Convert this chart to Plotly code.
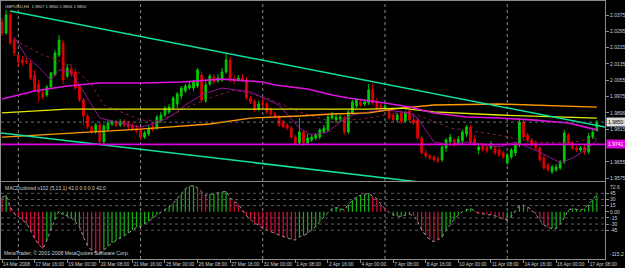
import plotly.graph_objects as go

# ---------------- data ----------------
bars = list(range(147))

open_ = [2.0341, 2.0287, 2.0375, 2.0252, 2.0179, 2.0155, 2.0150, 2.0140, 2.0081, 2.0037,
         1.9993, 1.9983, 2.0022, 2.0081, 2.0179, 2.0238, 2.0076, 2.0110, 2.0096, 2.0027,
         1.9959, 1.9880, 1.9826, 1.9802, 1.9836, 1.9753, 1.9816, 1.9841, 1.9851, 1.9836,
         1.9856, 1.9841, 1.9831, 1.9821, 1.9812, 1.9777, 1.9792, 1.9831, 1.9821, 1.9856,
         1.9885, 1.9900, 1.9919, 1.9939, 1.9978, 2.0003, 2.0017, 2.0017, 2.0027, 2.0081,
         1.9954, 2.0037, 2.0071, 2.0052, 2.0057, 2.0096, 2.0155, 2.0061, 2.0057, 2.0066,
         2.0057, 1.9968, 1.9954, 1.9914, 1.9944, 1.9939, 1.9910, 1.9890, 1.9875, 1.9851,
         1.9836, 1.9821, 1.9777, 1.9748, 1.9802, 1.9748, 1.9763, 1.9772, 1.9777, 1.9802,
         1.9812, 1.9870, 1.9861, 1.9865, 1.9870, 1.9802, 1.9895, 1.9929, 1.9949, 1.9939,
         1.9944, 2.0008, 1.9954, 1.9934, 1.9914, 1.9905, 1.9885, 1.9861, 1.9895, 1.9856,
         1.9905, 1.9861, 1.9861, 1.9772, 1.9699, 1.9684, 1.9679, 1.9669, 1.9665, 1.9723,
         1.9753, 1.9763, 1.9748, 1.9758, 1.9792, 1.9826, 1.9767, 1.9714, 1.9738, 1.9728,
         1.9723, 1.9723, 1.9714, 1.9699, 1.9650, 1.9679, 1.9699, 1.9738, 1.9851, 1.9787,
         1.9763, 1.9748, 1.9723, 1.9674, 1.9640, 1.9606, 1.9616, 1.9625, 1.9655, 1.9787,
         1.9748, 1.9723, 1.9714, 1.9728, 1.9704, 1.9777, 1.9807]

high = [2.0360, 2.0400, 2.0390, 2.0267, 2.0184, 2.0174, 2.0164, 2.0155, 2.0106, 2.0057,
        2.0008, 2.0032, 2.0096, 2.0204, 2.0277, 2.0252, 2.0135, 2.0130, 2.0106, 2.0037,
        1.9968, 1.9890, 1.9836, 1.9846, 1.9851, 1.9841, 1.9861, 1.9861, 1.9861, 1.9865,
        1.9865, 1.9856, 1.9846, 1.9836, 1.9826, 1.9807, 1.9831, 1.9846, 1.9885, 1.9900,
        1.9929, 1.9939, 1.9978, 1.9998, 2.0027, 2.0037, 2.0047, 2.0057, 2.0115, 2.0096,
        2.0057, 2.0086, 2.0086, 2.0086, 2.0115, 2.0189, 2.0169, 2.0081, 2.0081, 2.0086,
        2.0071, 1.9978, 1.9963, 1.9954, 1.9968, 1.9949, 1.9924, 1.9900, 1.9885, 1.9861,
        1.9846, 1.9831, 1.9787, 1.9870, 1.9812, 1.9792, 1.9792, 1.9797, 1.9821, 1.9836,
        1.9885, 1.9900, 1.9890, 1.9885, 1.9880, 1.9910, 1.9959, 1.9968, 1.9959, 1.9963,
        2.0037, 2.0042, 1.9968, 1.9944, 1.9944, 1.9914, 1.9895, 1.9895, 1.9905, 1.9905,
        1.9924, 1.9880, 1.9875, 1.9782, 1.9714, 1.9694, 1.9689, 1.9684, 1.9738, 1.9772,
        1.9792, 1.9772, 1.9782, 1.9812, 1.9836, 1.9836, 1.9787, 1.9743, 1.9748, 1.9738,
        1.9758, 1.9733, 1.9723, 1.9709, 1.9699, 1.9723, 1.9748, 1.9870, 1.9861, 1.9797,
        1.9772, 1.9758, 1.9733, 1.9689, 1.9650, 1.9640, 1.9645, 1.9665, 1.9812, 1.9797,
        1.9758, 1.9733, 1.9733, 1.9738, 1.9797, 1.9816, 1.9860]

low = [2.0272, 2.0277, 2.0228, 2.0174, 2.0125, 2.0125, 2.0135, 2.0057, 1.9998, 1.9949,
       1.9963, 1.9973, 2.0012, 2.0076, 2.0169, 2.0037, 2.0066, 2.0071, 2.0008, 1.9949,
       1.9836, 1.9816, 1.9792, 1.9792, 1.9738, 1.9743, 1.9807, 1.9831, 1.9826, 1.9826,
       1.9826, 1.9816, 1.9807, 1.9797, 1.9763, 1.9767, 1.9782, 1.9802, 1.9812, 1.9846,
       1.9875, 1.9890, 1.9910, 1.9919, 1.9963, 1.9993, 2.0008, 2.0003, 2.0017, 1.9944,
       1.9944, 2.0027, 2.0037, 2.0042, 2.0047, 2.0086, 2.0047, 2.0037, 2.0047, 2.0047,
       1.9959, 1.9939, 1.9900, 1.9905, 1.9924, 1.9890, 1.9880, 1.9865, 1.9826, 1.9821,
       1.9812, 1.9767, 1.9738, 1.9738, 1.9733, 1.9738, 1.9753, 1.9763, 1.9767, 1.9792,
       1.9802, 1.9861, 1.9846, 1.9851, 1.9787, 1.9792, 1.9885, 1.9919, 1.9924, 1.9929,
       1.9934, 1.9934, 1.9910, 1.9905, 1.9905, 1.9861, 1.9851, 1.9851, 1.9841, 1.9846,
       1.9851, 1.9836, 1.9763, 1.9689, 1.9674, 1.9665, 1.9655, 1.9650, 1.9655, 1.9704,
       1.9738, 1.9728, 1.9738, 1.9743, 1.9777, 1.9743, 1.9733, 1.9694, 1.9704, 1.9699,
       1.9714, 1.9689, 1.9679, 1.9669, 1.9640, 1.9669, 1.9684, 1.9728, 1.9767, 1.9753,
       1.9728, 1.9714, 1.9655, 1.9616, 1.9606, 1.9596, 1.9606, 1.9616, 1.9645, 1.9738,
       1.9714, 1.9704, 1.9704, 1.9689, 1.9694, 1.9767, 1.9806]

close = [2.0287, 2.0375, 2.0238, 2.0189, 2.0145, 2.0140, 2.0145, 2.0066, 2.0008, 1.9993,
         1.9973, 2.0022, 2.0091, 2.0189, 2.0252, 2.0057, 2.0115, 2.0086, 2.0017, 1.9959,
         1.9880, 1.9826, 1.9802, 1.9836, 1.9753, 1.9831, 1.9846, 1.9851, 1.9831, 1.9851,
         1.9836, 1.9826, 1.9816, 1.9807, 1.9777, 1.9797, 1.9821, 1.9812, 1.9875, 1.9885,
         1.9919, 1.9924, 1.9968, 1.9988, 2.0017, 2.0027, 2.0032, 2.0047, 2.0106, 1.9959,
         2.0032, 2.0076, 2.0047, 2.0066, 2.0096, 2.0155, 2.0057, 2.0052, 2.0066, 2.0057,
         1.9968, 1.9949, 1.9910, 1.9939, 1.9934, 1.9900, 1.9890, 1.9875, 1.9836, 1.9826,
         1.9821, 1.9777, 1.9748, 1.9802, 1.9748, 1.9772, 1.9777, 1.9787, 1.9812, 1.9821,
         1.9875, 1.9885, 1.9875, 1.9875, 1.9802, 1.9900, 1.9949, 1.9959, 1.9934, 1.9949,
         2.0008, 1.9944, 1.9919, 1.9919, 1.9929, 1.9870, 1.9861, 1.9885, 1.9851, 1.9895,
         1.9861, 1.9846, 1.9772, 1.9699, 1.9684, 1.9674, 1.9665, 1.9660, 1.9728, 1.9763,
         1.9777, 1.9738, 1.9767, 1.9802, 1.9826, 1.9753, 1.9748, 1.9728, 1.9714, 1.9709,
         1.9743, 1.9699, 1.9689, 1.9679, 1.9689, 1.9714, 1.9738, 1.9851, 1.9777, 1.9763,
         1.9738, 1.9723, 1.9665, 1.9625, 1.9616, 1.9630, 1.9630, 1.9655, 1.9797, 1.9748,
         1.9723, 1.9714, 1.9723, 1.9704, 1.9782, 1.9802, 1.9850]

macd = [35, 40, 12, -5, -12, -20, -28, -45, -65, -80,
        -90, -70, -45, -18, 2, -8, -10, -15, -25, -36,
        -62, -83, -95, -100, -102, -93, -84, -76, -70, -65,
        -58, -52, -44, -38, -36, -30, -24, -16, -8, 0,
        6, 12, 20, 32, 44, 56, 62, 64, 58, 48,
        40, 42, 44, 45, 48, 50, 34, 26, 18, 4,
        -10, -18, -28, -32, -40, -45, -49, -53, -57, -60,
        -64, -67, -69, -61, -58, -53, -45, -36, -24, -12,
        -2, 8, 10, 8, 4, 18, 28, 36, 40, 42,
        45, 38, 32, 18, 8, -2, -8, -10, -12, -8,
        -6, -10, -24, -44, -58, -68, -73, -68, -62, -45,
        -30, -18, -8, 0, 5, 8, 2, -4, -5, -6,
        -8, -10, -15, -18, -20, -12, 2, 15, 16, 12,
        4, -6, -20, -32, -38, -41, -41, -30, -14, 4,
        8, 6, 4, 8, 18, 30, 42]

# g = up colour, r = down colour (as seen in the histogram)
macd_state = ("rgr" + "rrrrrrrr" + "ggggggggg" + "rrrrr" + "ggggggggggggggggggggggg"
              + "rrr" + "ggggg" + "rrrr" + "rrrrrrrrrrrrr" + "ggggggggggg" + "r"
              + "gggggg" + "rrrrr" + "ggggg" + "rrrrrrr" + "gggggggg" + "rrrrrrrr"
              + "ggggg" + "rrrrrr" + "gggggggggggg")

magenta_idx = [0, 8, 16, 24, 34, 44, 54, 64, 67, 75, 81, 85, 94, 100, 106, 114, 122, 130, 139, 146]
magenta_val = [1.9963, 2.0003, 2.0027, 2.0042, 2.0042, 2.0047, 2.0061, 2.0047, 2.0032, 2.0012,
               1.9983, 1.9968, 1.9944, 1.9924, 1.9895, 1.9875, 1.9870, 1.9861, 1.9846, 1.9812]

yellow_idx = [0, 16, 34, 51, 73, 90, 98, 106, 122, 146]
yellow_val = [1.9895, 1.9914, 1.9914, 1.9914, 1.9914, 1.9914, 1.9919, 1.9900, 1.9885, 1.9870]

orange_idx = [0, 16, 34, 51, 61, 73, 81, 90, 98, 106, 122, 146]
orange_val = [1.9777, 1.9797, 1.9816, 1.9841, 1.9870, 1.9880, 1.9890, 1.9895, 1.9919, 1.9934, 1.9939, 1.9924]

fast_idx = [3, 6, 9, 12, 14, 17, 19, 24, 29, 34, 38, 42, 45, 49, 51, 54, 61, 68, 73, 76, 80, 83,
            86, 90, 94, 100, 102, 106, 110, 114, 122, 126, 132, 137, 140, 144, 146]
fast_val = [2.0267, 2.0169, 2.0120, 2.0057, 2.0106, 2.0096, 2.0032, 1.9870, 1.9846, 1.9826,
            1.9846, 1.9885, 1.9934, 1.9983, 1.9998, 2.0017, 1.9998, 1.9934, 1.9821, 1.9787,
            1.9802, 1.9851, 1.9885, 1.9900, 1.9910, 1.9895, 1.9870, 1.9753, 1.9738, 1.9753,
            1.9728, 1.9753, 1.9704, 1.9650, 1.9674, 1.9723, 1.9763]

slow_idx = [3, 10, 17, 22, 25, 34, 39, 45, 51, 57, 65, 73, 81, 90, 98, 102, 110, 122, 130, 139, 146]
slow_val = [2.0252, 2.0179, 2.0130, 2.0032, 1.9934, 1.9861, 1.9856, 1.9919, 1.9968, 2.0008,
            1.9968, 1.9900, 1.9851, 1.9870, 1.9900, 1.9885, 1.9821, 1.9787, 1.9753, 1.9748, 1.9772]

trend_upper_x = [2, 148]
trend_upper_y = [2.0395, 1.9826]
trend_lower_x = [-0.25, 148]
trend_lower_y = [1.9797, 1.9450]

hline_level = 1.9741
bid_price = 1.9850
week_starts = [4, 34, 64, 94, 124]
macd_levels = [45, 30, 15, -15, -30, -45]

price_ticks = [2.0375, 2.0295, 2.0215, 2.0135, 2.0055, 1.9975, 1.9896, 1.9815, 1.9655, 1.9575]
price_labels = ["2.0375", "2.0295", "2.0215", "2.0135", "2.0055", "1.9975", "1.9896", "1.9815",
                "1.9655", "1.9575"]
macd_ticks = [45, 30, 15, 0, -15, -30, -45]
macd_labels = ["45", "30", "15", "0.00", "-15", "-30", "-45"]
macd_range = [-115.2, 72.6]

time_idx = [0, 8, 16, 24, 32, 40, 48, 56, 64, 72, 80, 88, 96, 104, 112, 120, 128, 136, 144]
time_labels = ["14 Mar 2008", "17 Mar 16:00", "19 Mar 00:00", "20 Mar 08:00", "21 Mar 16:00",
               "25 Mar 00:00", "26 Mar 08:00", "27 Mar 16:00", "31 Mar 00:00", "1 Apr 08:00",
               "2 Apr 16:00", "4 Apr 00:00", "7 Apr 08:00", "8 Apr 16:00", "10 Apr 00:00",
               "11 Apr 08:00", "14 Apr 16:00", "16 Apr 00:00", "17 Apr 08:00"]

title_text = "GBPUSD,H4  1.9807 1.9860 1.9806 1.9850"
macd_title = "MACDcolored v102 (5,13,1) 42.0 0.0 0.0 42.0"
copyright_text = "MetaTrader, \u00a9 2001-2008 MetaQuotes Software Corp."

# ---------------- layout geometry ----------------
W, H = 625, 268
X_DOM = [1 / W, 605 / W]
Y_MAIN = [1 - 181 / H, 1 - 1 / H]
Y_MACD = [1 - 259 / H, 1 - 182 / H]
X_RANGE = [-0.25, 148]
Y_RANGE = [1.95616, 2.04436]

FONT = "Liberation Sans, Arial, sans-serif"
TXT = "#cfcfcf"
AX = "#8c8c8c"
GREEN = "#00cc00"
RED = "#e00000"

fig = go.Figure()

fig.add_trace(go.Candlestick(
    x=bars, open=open_, high=high, low=low, close=close,
    increasing=dict(line=dict(color=GREEN, width=1), fillcolor=GREEN),
    decreasing=dict(line=dict(color=RED, width=1), fillcolor=RED),
    whiskerwidth=0, showlegend=False, hoverinfo="skip", xaxis="x", yaxis="y"))

fig.add_trace(go.Scatter(x=slow_idx, y=slow_val, mode="lines",
                         line=dict(color="#8a1840", width=1, dash="dot"),
                         showlegend=False, hoverinfo="skip", xaxis="x", yaxis="y"))
fig.add_trace(go.Scatter(x=fast_idx, y=fast_val, mode="lines",
                         line=dict(color="#9a109a", width=1),
                         showlegend=False, hoverinfo="skip", xaxis="x", yaxis="y"))
fig.add_trace(go.Scatter(x=orange_idx, y=orange_val, mode="lines",
                         line=dict(color="#ff9a00", width=1.3),
                         showlegend=False, hoverinfo="skip", xaxis="x", yaxis="y"))
fig.add_trace(go.Scatter(x=yellow_idx, y=yellow_val, mode="lines",
                         line=dict(color="#e8e800", width=1.3),
                         showlegend=False, hoverinfo="skip", xaxis="x", yaxis="y"))
fig.add_trace(go.Scatter(x=magenta_idx, y=magenta_val, mode="lines",
                         line=dict(color="#e010e0", width=1.6),
                         showlegend=False, hoverinfo="skip", xaxis="x", yaxis="y"))
fig.add_trace(go.Scatter(x=trend_upper_x, y=trend_upper_y, mode="lines",
                         line=dict(color="#10e0a0", width=1.5),
                         showlegend=False, hoverinfo="skip", xaxis="x", yaxis="y"))
fig.add_trace(go.Scatter(x=trend_lower_x, y=trend_lower_y, mode="lines",
                         line=dict(color="#10e0a0", width=1.5),
                         showlegend=False, hoverinfo="skip", xaxis="x", yaxis="y"))

bar_colors = ["#18b018" if s == "g" else "#d0103a" for s in macd_state]
fig.add_trace(go.Bar(x=bars, y=macd, marker=dict(color=bar_colors, line=dict(width=0)),
                     width=0.3, showlegend=False, hoverinfo="skip", xaxis="x2", yaxis="y2"))
fig.add_trace(go.Scatter(x=bars, y=macd, mode="lines",
                         line=dict(color="#a0a0a0", width=1, dash="dot"),
                         showlegend=False, hoverinfo="skip", xaxis="x2", yaxis="y2"))

shapes = []
shapes.append(dict(type="line", xref="x domain", yref="y", x0=0, x1=1,
                   y0=hline_level, y1=hline_level, line=dict(color="#e000e0", width=1.6)))
shapes.append(dict(type="line", xref="x domain", yref="y", x0=0, x1=1,
                   y0=bid_price, y1=bid_price, line=dict(color="#5e6e80", width=1, dash="dot")))
for lv in macd_levels:
    shapes.append(dict(type="line", xref="x2 domain", yref="y2", x0=0, x1=1, y0=lv, y1=lv,
                       line=dict(color="#5a5a5a", width=1, dash="dot")))
for wk in week_starts:
    shapes.append(dict(type="line", xref="x", yref="paper", x0=wk, x1=wk,
                       y0=Y_MACD[0], y1=Y_MAIN[1], line=dict(color="#8a8a8a", width=1, dash="dot"),
                       layer="below"))

annotations = [
    dict(text=title_text, xref="paper", yref="paper", x=3 / W, y=1 - 1.5 / H,
         xanchor="left", yanchor="top", showarrow=False,
         font=dict(family=FONT, size=4.2, color=TXT)),
    dict(text=macd_title, xref="paper", yref="paper", x=3 / W, y=1 - 183 / H,
         xanchor="left", yanchor="top", showarrow=False,
         font=dict(family=FONT, size=5, color=TXT)),
    dict(text=copyright_text, xref="paper", yref="paper", x=2 / W, y=1 - 258 / H,
         xanchor="left", yanchor="bottom", showarrow=False,
         font=dict(family=FONT, size=5.2, color=TXT)),
    dict(text="1.9850", xref="paper", yref="y", x=606 / W, y=bid_price,
         xanchor="left", yanchor="middle", showarrow=False, bgcolor="#dcdcdc",
         borderpad=1, font=dict(family=FONT, size=5, color="#000000")),
    dict(text="1.9741", xref="paper", yref="y", x=606 / W, y=hline_level,
         xanchor="left", yanchor="middle", showarrow=False, bgcolor="#e000e0",
         borderpad=1, font=dict(family=FONT, size=5, color="#ffffff")),
    dict(text=str(macd_range[1]), xref="paper", yref="y2", x=608 / W, y=macd_range[1],
         xanchor="left", yanchor="top", showarrow=False,
         font=dict(family=FONT, size=5, color=TXT)),
    dict(text=str(macd_range[0]), xref="paper", yref="y2", x=608 / W, y=macd_range[0],
         xanchor="left", yanchor="bottom", showarrow=False,
         font=dict(family=FONT, size=5, color=TXT)),
]

axis_common = dict(showgrid=False, zeroline=False, showline=True, mirror=True,
                   linecolor=AX, linewidth=1, fixedrange=True, automargin=False)

fig.update_layout(
    width=W, height=H, autosize=False,
    margin=dict(l=0, r=0, t=0, b=0, pad=0),
    paper_bgcolor="#000000", plot_bgcolor="#000000",
    showlegend=False, boxgap=0.4, hovermode=False,
    xaxis=dict(domain=X_DOM, range=X_RANGE, anchor="y", showticklabels=False, ticks="",
               rangeslider=dict(visible=False), **axis_common),
    yaxis=dict(domain=Y_MAIN, range=Y_RANGE, anchor="x", side="right",
               tickvals=price_ticks, ticktext=price_labels, ticks="outside", ticklen=3,
               tickcolor=AX, tickfont=dict(family=FONT, size=5, color=TXT), **axis_common),
    xaxis2=dict(domain=X_DOM, range=X_RANGE, anchor="y2", matches="x",
                tickvals=time_idx, ticktext=time_labels, ticks="outside", ticklen=3,
                tickangle=0, tickcolor=AX, ticklabelposition="outside right",
                tickfont=dict(family=FONT, size=4.8, color=TXT), **axis_common),
    yaxis2=dict(domain=Y_MACD, range=macd_range, anchor="x2", side="right",
                tickvals=macd_ticks, ticktext=macd_labels, ticks="outside", ticklen=3,
                tickcolor=AX, tickfont=dict(family=FONT, size=5, color=TXT), **axis_common),
    shapes=shapes, annotations=annotations,
)

fig.write_html("out.html", config={"displayModeBar": False, "staticPlot": True})
